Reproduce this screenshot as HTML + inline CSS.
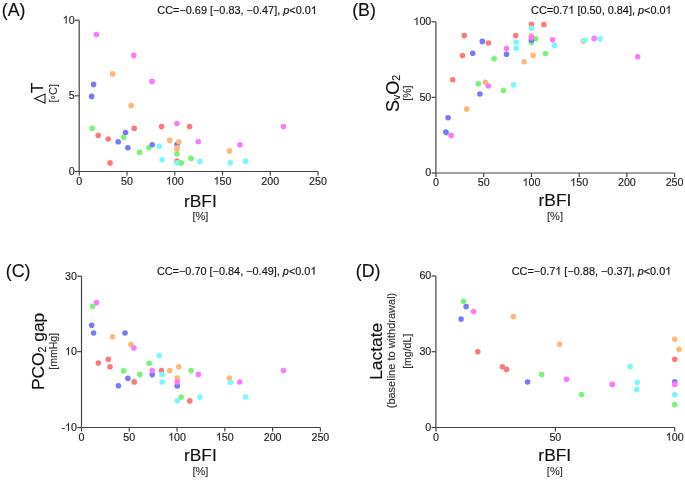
<!DOCTYPE html>
<html><head><meta charset="utf-8"><style>
html,body{margin:0;padding:0;background:#fff;}
svg{display:block;}
text{font-family:"Liberation Sans",sans-serif;fill:#111;stroke:#111;stroke-width:0.15px;}
.tk{stroke:#222;} .xu,.yu{stroke:#333;}
.pl{font-size:17.8px;}
.cc{font-size:10.9px;}
.tk{font-size:10.7px;fill:#222;}
.xl{font-size:17.4px;}
.xu{font-size:11px;fill:#333;}
.yl{font-size:17.4px;}
.yu{font-size:10.5px;fill:#333;}
.h1{fill-opacity:0;stroke-opacity:0;}
</style></head><body>
<svg width="685" height="481" viewBox="0 0 685 481">
<rect width="685" height="481" fill="#fff"/>
<path d="M79.2 20.2V171.5H318.0" fill="none" stroke="#444" stroke-width="1.2"/>
<path d="M74.9 171.5H79.2" stroke="#444" stroke-width="1.2"/>
<path d="M74.9 95.8H79.2" stroke="#444" stroke-width="1.2"/>
<path d="M74.9 20.2H79.2" stroke="#444" stroke-width="1.2"/>
<path d="M79.3 171.5V175.5" stroke="#444" stroke-width="1.2"/>
<path d="M127.03999999999999 171.5V175.5" stroke="#444" stroke-width="1.2"/>
<path d="M174.78 171.5V175.5" stroke="#444" stroke-width="1.2"/>
<path d="M222.51999999999998 171.5V175.5" stroke="#444" stroke-width="1.2"/>
<path d="M270.26 171.5V175.5" stroke="#444" stroke-width="1.2"/>
<path d="M318.0 171.5V175.5" stroke="#444" stroke-width="1.2"/>
<path d="M435.9 21.8V173H674.6" fill="none" stroke="#444" stroke-width="1.2"/>
<path d="M431.59999999999997 173H435.9" stroke="#444" stroke-width="1.2"/>
<path d="M431.59999999999997 97.4H435.9" stroke="#444" stroke-width="1.2"/>
<path d="M431.59999999999997 21.8H435.9" stroke="#444" stroke-width="1.2"/>
<path d="M436.0 173V177" stroke="#444" stroke-width="1.2"/>
<path d="M483.72 173V177" stroke="#444" stroke-width="1.2"/>
<path d="M531.44 173V177" stroke="#444" stroke-width="1.2"/>
<path d="M579.16 173V177" stroke="#444" stroke-width="1.2"/>
<path d="M626.88 173V177" stroke="#444" stroke-width="1.2"/>
<path d="M674.6 173V177" stroke="#444" stroke-width="1.2"/>
<path d="M81.5 276.2V427.5H320.4" fill="none" stroke="#444" stroke-width="1.2"/>
<path d="M77.2 427.5H81.5" stroke="#444" stroke-width="1.2"/>
<path d="M77.2 351.6H81.5" stroke="#444" stroke-width="1.2"/>
<path d="M77.2 276.2H81.5" stroke="#444" stroke-width="1.2"/>
<path d="M81.5 427.5V431.5" stroke="#444" stroke-width="1.2"/>
<path d="M129.28 427.5V431.5" stroke="#444" stroke-width="1.2"/>
<path d="M177.06 427.5V431.5" stroke="#444" stroke-width="1.2"/>
<path d="M224.84 427.5V431.5" stroke="#444" stroke-width="1.2"/>
<path d="M272.62 427.5V431.5" stroke="#444" stroke-width="1.2"/>
<path d="M320.4 427.5V431.5" stroke="#444" stroke-width="1.2"/>
<path d="M435.9 276.0V427.5H674.7" fill="none" stroke="#444" stroke-width="1.2"/>
<path d="M431.59999999999997 427.5H435.9" stroke="#444" stroke-width="1.2"/>
<path d="M431.59999999999997 351.7H435.9" stroke="#444" stroke-width="1.2"/>
<path d="M431.59999999999997 276.0H435.9" stroke="#444" stroke-width="1.2"/>
<path d="M436 427.5V431.5" stroke="#444" stroke-width="1.2"/>
<path d="M555.35 427.5V431.5" stroke="#444" stroke-width="1.2"/>
<path d="M674.7 427.5V431.5" stroke="#444" stroke-width="1.2"/>
<path d="M34.7 98.6L45.0 94.0V103.2Z" fill="none" stroke="#111" stroke-width="1.05" stroke-linejoin="miter"/>
<circle cx="96.4" cy="34.5" r="2.8" fill="#FB7AFB"/>
<circle cx="133.8" cy="55.4" r="2.8" fill="#FB7AFB"/>
<circle cx="112.6" cy="73.9" r="2.8" fill="#FFB87A"/>
<circle cx="152" cy="81.4" r="2.8" fill="#FB7AFB"/>
<circle cx="93.6" cy="84.4" r="2.8" fill="#7878FA"/>
<circle cx="91.6" cy="96.4" r="2.8" fill="#7878FA"/>
<circle cx="131.1" cy="105.6" r="2.8" fill="#FFB87A"/>
<circle cx="92.2" cy="128.2" r="2.8" fill="#78F278"/>
<circle cx="98.2" cy="135.5" r="2.8" fill="#FE7A7A"/>
<circle cx="108.2" cy="139" r="2.8" fill="#FE7A7A"/>
<circle cx="134.2" cy="128.2" r="2.8" fill="#FE7A7A"/>
<circle cx="123.7" cy="137.2" r="2.8" fill="#78F278"/>
<circle cx="125.5" cy="132.5" r="2.8" fill="#7878FA"/>
<circle cx="118.2" cy="141.7" r="2.8" fill="#7878FA"/>
<circle cx="127.9" cy="147.7" r="2.8" fill="#7878FA"/>
<circle cx="110" cy="162.9" r="2.8" fill="#FE7A7A"/>
<circle cx="139.6" cy="152.4" r="2.8" fill="#78F278"/>
<circle cx="148.9" cy="147.7" r="2.8" fill="#78F278"/>
<circle cx="161.5" cy="126.6" r="2.8" fill="#FE7A7A"/>
<circle cx="177" cy="123.5" r="2.8" fill="#FB7AFB"/>
<circle cx="189.6" cy="126.6" r="2.8" fill="#FE7A7A"/>
<circle cx="169.75" cy="140.4" r="2.8" fill="#FFB87A"/>
<circle cx="198.25" cy="141.75" r="2.8" fill="#FB7AFB"/>
<circle cx="152.25" cy="144.75" r="2.8" fill="#7878FA"/>
<circle cx="159.25" cy="146.25" r="2.8" fill="#78F8F8"/>
<circle cx="177" cy="144.5" r="2.8" fill="#7878FA"/>
<circle cx="178.9" cy="141.75" r="2.8" fill="#FFB87A"/>
<circle cx="177" cy="147.75" r="2.8" fill="#FFB87A"/>
<circle cx="177" cy="149.2" r="2.8" fill="#FFB87A"/>
<circle cx="177" cy="154" r="2.8" fill="#78F278"/>
<circle cx="162.1" cy="159.75" r="2.8" fill="#78F8F8"/>
<circle cx="177" cy="161" r="2.8" fill="#FE7A7A"/>
<circle cx="177" cy="162.9" r="2.8" fill="#78F8F8"/>
<circle cx="181.25" cy="162.9" r="2.8" fill="#78F278"/>
<circle cx="191" cy="158.4" r="2.8" fill="#78F278"/>
<circle cx="200" cy="161.5" r="2.8" fill="#78F8F8"/>
<circle cx="229.4" cy="150.9" r="2.8" fill="#FFB87A"/>
<circle cx="230.2" cy="162.8" r="2.8" fill="#78F8F8"/>
<circle cx="245.5" cy="161.3" r="2.8" fill="#78F8F8"/>
<circle cx="239.9" cy="144.7" r="2.8" fill="#FB7AFB"/>
<circle cx="283.4" cy="126.6" r="2.8" fill="#FB7AFB"/>
<circle cx="464.3" cy="35.6" r="2.8" fill="#FE7A7A"/>
<circle cx="482.3" cy="41.4" r="2.8" fill="#7878FA"/>
<circle cx="488.4" cy="43" r="2.8" fill="#FE7A7A"/>
<circle cx="462.5" cy="55.5" r="2.8" fill="#FE7A7A"/>
<circle cx="472.7" cy="53.3" r="2.8" fill="#7878FA"/>
<circle cx="494.1" cy="58.7" r="2.8" fill="#78F278"/>
<circle cx="506.5" cy="48.5" r="2.8" fill="#FB7AFB"/>
<circle cx="506.5" cy="54.2" r="2.8" fill="#7878FA"/>
<circle cx="515.7" cy="35.6" r="2.8" fill="#FE7A7A"/>
<circle cx="516.2" cy="42.2" r="2.8" fill="#78F8F8"/>
<circle cx="516.2" cy="48.2" r="2.8" fill="#78F8F8"/>
<circle cx="452.7" cy="79.7" r="2.8" fill="#FE7A7A"/>
<circle cx="478.2" cy="83.8" r="2.8" fill="#78F278"/>
<circle cx="485.4" cy="82.3" r="2.8" fill="#FFB87A"/>
<circle cx="488.3" cy="86" r="2.8" fill="#FB7AFB"/>
<circle cx="503.4" cy="90.5" r="2.8" fill="#78F278"/>
<circle cx="479.9" cy="94" r="2.8" fill="#7878FA"/>
<circle cx="513.5" cy="84.9" r="2.8" fill="#78F8F8"/>
<circle cx="466.8" cy="109.1" r="2.8" fill="#FFB87A"/>
<circle cx="448.1" cy="117.7" r="2.8" fill="#7878FA"/>
<circle cx="446.6" cy="133" r="2.8" fill="#78F278"/>
<circle cx="445.8" cy="132.1" r="2.8" fill="#7878FA"/>
<circle cx="451.1" cy="135.4" r="2.8" fill="#FB7AFB"/>
<circle cx="531.4" cy="24.4" r="2.8" fill="#FE7A7A"/>
<circle cx="531.4" cy="28.2" r="2.8" fill="#78F8F8"/>
<circle cx="543.9" cy="24.6" r="2.8" fill="#FE7A7A"/>
<circle cx="531.4" cy="35.8" r="2.8" fill="#FFB87A"/>
<circle cx="535.7" cy="38.7" r="2.8" fill="#78F278"/>
<circle cx="531.4" cy="42.6" r="2.8" fill="#78F278"/>
<circle cx="531.4" cy="40.3" r="2.8" fill="#7878FA"/>
<circle cx="531.4" cy="37.4" r="2.8" fill="#FB7AFB"/>
<circle cx="552.5" cy="39.8" r="2.8" fill="#FB7AFB"/>
<circle cx="554.3" cy="45.4" r="2.8" fill="#78F8F8"/>
<circle cx="533.1" cy="55.4" r="2.8" fill="#FFB87A"/>
<circle cx="545.5" cy="53.5" r="2.8" fill="#78F278"/>
<circle cx="524.2" cy="61.8" r="2.8" fill="#FFB87A"/>
<circle cx="583.3" cy="41.1" r="2.8" fill="#FFB87A"/>
<circle cx="584.4" cy="40.3" r="2.8" fill="#78F8F8"/>
<circle cx="594.1" cy="38.4" r="2.8" fill="#FB7AFB"/>
<circle cx="600.1" cy="38.7" r="2.8" fill="#78F8F8"/>
<circle cx="637.7" cy="56.8" r="2.8" fill="#FB7AFB"/>
<circle cx="92.6" cy="306.3" r="2.8" fill="#78F278"/>
<circle cx="96.6" cy="302.6" r="2.8" fill="#FB7AFB"/>
<circle cx="91.7" cy="325.3" r="2.8" fill="#7878FA"/>
<circle cx="93.6" cy="333" r="2.8" fill="#7878FA"/>
<circle cx="112.6" cy="336.7" r="2.8" fill="#FFB87A"/>
<circle cx="125" cy="333" r="2.8" fill="#7878FA"/>
<circle cx="130.9" cy="344.2" r="2.8" fill="#FFB87A"/>
<circle cx="133.9" cy="348" r="2.8" fill="#FB7AFB"/>
<circle cx="159.2" cy="355.5" r="2.8" fill="#78F8F8"/>
<circle cx="98.3" cy="363.1" r="2.8" fill="#FE7A7A"/>
<circle cx="108.3" cy="359.2" r="2.8" fill="#FE7A7A"/>
<circle cx="110" cy="366.7" r="2.8" fill="#FE7A7A"/>
<circle cx="149.2" cy="363.2" r="2.8" fill="#78F278"/>
<circle cx="123.7" cy="370.7" r="2.8" fill="#78F278"/>
<circle cx="139.8" cy="374.4" r="2.8" fill="#78F278"/>
<circle cx="127.9" cy="378.2" r="2.8" fill="#7878FA"/>
<circle cx="134.2" cy="381.9" r="2.8" fill="#FE7A7A"/>
<circle cx="118.4" cy="385.7" r="2.8" fill="#7878FA"/>
<circle cx="152.2" cy="374.6" r="2.8" fill="#7878FA"/>
<circle cx="152.2" cy="370.6" r="2.8" fill="#FB7AFB"/>
<circle cx="161.4" cy="370.6" r="2.8" fill="#FE7A7A"/>
<circle cx="162.1" cy="374.5" r="2.8" fill="#78F8F8"/>
<circle cx="162.1" cy="382" r="2.8" fill="#78F8F8"/>
<circle cx="169.8" cy="370.6" r="2.8" fill="#FFB87A"/>
<circle cx="178.8" cy="366.8" r="2.8" fill="#FFB87A"/>
<circle cx="177.2" cy="378" r="2.8" fill="#FFB87A"/>
<circle cx="177.2" cy="386" r="2.8" fill="#7878FA"/>
<circle cx="177.2" cy="382" r="2.8" fill="#FB7AFB"/>
<circle cx="191.1" cy="370.6" r="2.8" fill="#78F278"/>
<circle cx="198.3" cy="374.4" r="2.8" fill="#FB7AFB"/>
<circle cx="177.2" cy="400.7" r="2.8" fill="#78F8F8"/>
<circle cx="181.2" cy="397.1" r="2.8" fill="#78F278"/>
<circle cx="189.8" cy="400.9" r="2.8" fill="#FE7A7A"/>
<circle cx="199.8" cy="397.1" r="2.8" fill="#78F8F8"/>
<circle cx="229.3" cy="378.1" r="2.8" fill="#FFB87A"/>
<circle cx="230.4" cy="382.2" r="2.8" fill="#78F8F8"/>
<circle cx="239.7" cy="382" r="2.8" fill="#FB7AFB"/>
<circle cx="283.4" cy="370.6" r="2.8" fill="#FB7AFB"/>
<circle cx="245.6" cy="397" r="2.8" fill="#78F8F8"/>
<circle cx="463.5" cy="301.3" r="2.8" fill="#78F278"/>
<circle cx="466.1" cy="306.6" r="2.8" fill="#7878FA"/>
<circle cx="473.6" cy="311.5" r="2.8" fill="#FB7AFB"/>
<circle cx="461.1" cy="319.1" r="2.8" fill="#7878FA"/>
<circle cx="513.4" cy="316.6" r="2.8" fill="#FFB87A"/>
<circle cx="477.8" cy="351.8" r="2.8" fill="#FE7A7A"/>
<circle cx="502.4" cy="366.7" r="2.8" fill="#FE7A7A"/>
<circle cx="506.6" cy="369.4" r="2.8" fill="#FE7A7A"/>
<circle cx="527.6" cy="382" r="2.8" fill="#7878FA"/>
<circle cx="541.7" cy="374.5" r="2.8" fill="#78F278"/>
<circle cx="559.6" cy="344.2" r="2.8" fill="#FFB87A"/>
<circle cx="566.5" cy="379.3" r="2.8" fill="#FB7AFB"/>
<circle cx="581.5" cy="394.5" r="2.8" fill="#78F278"/>
<circle cx="612.3" cy="384.4" r="2.8" fill="#FB7AFB"/>
<circle cx="630.1" cy="366.6" r="2.8" fill="#78F8F8"/>
<circle cx="637.2" cy="382.2" r="2.8" fill="#78F8F8"/>
<circle cx="636.7" cy="389.5" r="2.8" fill="#78F8F8"/>
<circle cx="674.7" cy="339.2" r="2.8" fill="#FFB87A"/>
<circle cx="679.1" cy="349.2" r="2.8" fill="#FFB87A"/>
<circle cx="674.7" cy="359.3" r="2.8" fill="#FE7A7A"/>
<circle cx="674.7" cy="381.7" r="2.8" fill="#7878FA"/>
<circle cx="674.7" cy="384.4" r="2.8" fill="#FB7AFB"/>
<circle cx="674.7" cy="394.7" r="2.8" fill="#78F8F8"/>
<circle cx="674.7" cy="404.6" r="2.8" fill="#78F278"/>
<g style="filter:grayscale(1)">
<text x="1.8" y="16.1" class="pl">(A)</text>
<text x="352.2" y="16.1" class="pl">(B)</text>
<text x="5.8" y="276.6" class="pl">(C)</text>
<text x="355.8" y="276.6" class="pl">(D)</text>
<text id="one0" x="157.3" y="13.9" class="cc">CC=−0.69 [−0.83, −0.47], <tspan font-style="italic">p</tspan>&lt;0.0<tspan class="h1">1</tspan></text>
<text id="one1" x="531.1" y="13.7" class="cc">CC=0.7<tspan class="h1">1</tspan> [0.50, 0.84], <tspan font-style="italic">p</tspan>&lt;0.0<tspan class="h1">1</tspan></text>
<text id="one2" x="156.9" y="274.7" class="cc">CC=−0.70 [−0.84, −0.49], <tspan font-style="italic">p</tspan>&lt;0.0<tspan class="h1">1</tspan></text>
<text id="one3" x="511.7" y="274.7" class="cc">CC=−0.7<tspan class="h1">1</tspan> [−0.88, −0.37], <tspan font-style="italic">p</tspan>&lt;0.0<tspan class="h1">1</tspan></text>
<text x="74.60000000000001" y="174.8" class="tk" text-anchor="end">0</text>
<text x="74.60000000000001" y="99.1" class="tk" text-anchor="end">5</text>
<text id="one4" x="74.60000000000001" y="23.5" class="tk" text-anchor="end"><tspan class="h1">1</tspan>0</text>
<text x="79.3" y="184.5" class="tk" text-anchor="middle">0</text>
<text x="127.03999999999999" y="184.5" class="tk" text-anchor="middle">50</text>
<text id="one5" x="174.78" y="184.5" class="tk" text-anchor="middle"><tspan class="h1">1</tspan>00</text>
<text id="one6" x="222.51999999999998" y="184.5" class="tk" text-anchor="middle"><tspan class="h1">1</tspan>50</text>
<text x="270.26" y="184.5" class="tk" text-anchor="middle">200</text>
<text x="318.0" y="184.5" class="tk" text-anchor="middle">250</text>
<text x="431.29999999999995" y="176.3" class="tk" text-anchor="end">0</text>
<text x="431.29999999999995" y="100.7" class="tk" text-anchor="end">50</text>
<text id="one7" x="431.29999999999995" y="25.1" class="tk" text-anchor="end"><tspan class="h1">1</tspan>00</text>
<text x="436.0" y="186" class="tk" text-anchor="middle">0</text>
<text x="483.72" y="186" class="tk" text-anchor="middle">50</text>
<text id="one8" x="531.44" y="186" class="tk" text-anchor="middle"><tspan class="h1">1</tspan>00</text>
<text id="one9" x="579.16" y="186" class="tk" text-anchor="middle"><tspan class="h1">1</tspan>50</text>
<text x="626.88" y="186" class="tk" text-anchor="middle">200</text>
<text x="674.6" y="186" class="tk" text-anchor="middle">250</text>
<text id="one10" x="76.9" y="430.8" class="tk" text-anchor="end">-<tspan class="h1">1</tspan>0</text>
<text id="one11" x="76.9" y="354.90000000000003" class="tk" text-anchor="end"><tspan class="h1">1</tspan>0</text>
<text x="76.9" y="279.5" class="tk" text-anchor="end">30</text>
<text x="81.5" y="440.5" class="tk" text-anchor="middle">0</text>
<text x="129.28" y="440.5" class="tk" text-anchor="middle">50</text>
<text id="one12" x="177.06" y="440.5" class="tk" text-anchor="middle"><tspan class="h1">1</tspan>00</text>
<text id="one13" x="224.84" y="440.5" class="tk" text-anchor="middle"><tspan class="h1">1</tspan>50</text>
<text x="272.62" y="440.5" class="tk" text-anchor="middle">200</text>
<text x="320.4" y="440.5" class="tk" text-anchor="middle">250</text>
<text x="431.29999999999995" y="430.8" class="tk" text-anchor="end">0</text>
<text x="431.29999999999995" y="355.0" class="tk" text-anchor="end">30</text>
<text x="431.29999999999995" y="279.3" class="tk" text-anchor="end">60</text>
<text x="436" y="440.5" class="tk" text-anchor="middle">0</text>
<text x="555.35" y="440.5" class="tk" text-anchor="middle">50</text>
<text id="one14" x="674.7" y="440.5" class="tk" text-anchor="middle"><tspan class="h1">1</tspan>00</text>
<text x="200.4" y="206.7" class="xl" text-anchor="middle">rBFI</text>
<text x="200.4" y="219.8" class="xu" text-anchor="middle">[%]</text>
<text x="555" y="206.4" class="xl" text-anchor="middle">rBFI</text>
<text x="555" y="219.5" class="xu" text-anchor="middle">[%]</text>
<text x="200.4" y="460.9" class="xl" text-anchor="middle">rBFI</text>
<text x="200.4" y="474.6" class="xu" text-anchor="middle">[%]</text>
<text x="554.8" y="460.9" class="xl" text-anchor="middle">rBFI</text>
<text x="554.8" y="474.6" class="xu" text-anchor="middle">[%]</text>
<text transform="translate(43.3 88) rotate(-90)" class="yl" text-anchor="middle">T</text>
<text transform="translate(56.9 93.3) rotate(-90)" class="yu" style="font-size:11px" text-anchor="middle">[<tspan dy="2.4">°</tspan><tspan dy="-2.4">C]</tspan></text>
<text transform="translate(398.6 93.35) rotate(-90)" class="yl" style="font-size:18px" text-anchor="middle">S<tspan style="font-size:10.5px" dy="1.5">v</tspan><tspan dy="-1.5">O</tspan><tspan style="font-size:10.5px" dy="1.5">2</tspan></text>
<text transform="translate(411 93.2) rotate(-90)" class="yu" text-anchor="middle">[%]</text>
<text transform="translate(44.1 351.4) rotate(-90)" class="yl" text-anchor="middle">PCO<tspan font-size="10.5" dy="1.5">2</tspan><tspan dy="-1.5"> gap</tspan></text>
<text transform="translate(57.1 351.4) rotate(-90)" class="yu" text-anchor="middle">[mmHg]</text>
<text transform="translate(382.2 351.35) rotate(-90)" class="yl" text-anchor="middle">Lactate</text>
<text transform="translate(395.2 350.5) rotate(-90)" class="yu" font-size="11" style="font-size:11px" text-anchor="middle">(baseline to withdrawal)</text>
<text transform="translate(411 351.35) rotate(-90)" class="yu" text-anchor="middle">[mg/dL]</text>
<path transform=" translate(310.816 13.900) scale(0.005322 -0.005322)" d="M763 0L583 0L583 1147Q518 1085 412.5 1023Q307 961 223 930L223 1104Q374 1175 486.5 1276Q599 1377 646 1472L763 1472Z" fill="rgb(17, 17, 17)" stroke="rgb(17, 17, 17)" stroke-width="0.15" vector-effect="non-scaling-stroke"/>
<path transform=" translate(568.334 13.700) scale(0.005322 -0.005322)" d="M763 0L583 0L583 1147Q518 1085 412.5 1023Q307 961 223 930L223 1104Q374 1175 486.5 1276Q599 1377 646 1472L763 1472Z" fill="rgb(17, 17, 17)" stroke="rgb(17, 17, 17)" stroke-width="0.15" vector-effect="non-scaling-stroke"/>
<path transform=" translate(665.537 13.700) scale(0.005322 -0.005322)" d="M763 0L583 0L583 1147Q518 1085 412.5 1023Q307 961 223 930L223 1104Q374 1175 486.5 1276Q599 1377 646 1472L763 1472Z" fill="rgb(17, 17, 17)" stroke="rgb(17, 17, 17)" stroke-width="0.15" vector-effect="non-scaling-stroke"/>
<path transform=" translate(310.416 274.700) scale(0.005322 -0.005322)" d="M763 0L583 0L583 1147Q518 1085 412.5 1023Q307 961 223 930L223 1104Q374 1175 486.5 1276Q599 1377 646 1472L763 1472Z" fill="rgb(17, 17, 17)" stroke="rgb(17, 17, 17)" stroke-width="0.15" vector-effect="non-scaling-stroke"/>
<path transform=" translate(555.294 274.700) scale(0.005322 -0.005322)" d="M763 0L583 0L583 1147Q518 1085 412.5 1023Q307 961 223 930L223 1104Q374 1175 486.5 1276Q599 1377 646 1472L763 1472Z" fill="rgb(17, 17, 17)" stroke="rgb(17, 17, 17)" stroke-width="0.15" vector-effect="non-scaling-stroke"/>
<path transform=" translate(665.216 274.700) scale(0.005322 -0.005322)" d="M763 0L583 0L583 1147Q518 1085 412.5 1023Q307 961 223 930L223 1104Q374 1175 486.5 1276Q599 1377 646 1472L763 1472Z" fill="rgb(17, 17, 17)" stroke="rgb(17, 17, 17)" stroke-width="0.15" vector-effect="non-scaling-stroke"/>
<path transform=" translate(62.694 23.500) scale(0.005225 -0.005225)" d="M763 0L583 0L583 1147Q518 1085 412.5 1023Q307 961 223 930L223 1104Q374 1175 486.5 1276Q599 1377 646 1472L763 1472Z" fill="rgb(34, 34, 34)" stroke="rgb(34, 34, 34)" stroke-width="0.15" vector-effect="non-scaling-stroke"/>
<path transform=" translate(165.858 184.500) scale(0.005225 -0.005225)" d="M763 0L583 0L583 1147Q518 1085 412.5 1023Q307 961 223 930L223 1104Q374 1175 486.5 1276Q599 1377 646 1472L763 1472Z" fill="rgb(34, 34, 34)" stroke="rgb(34, 34, 34)" stroke-width="0.15" vector-effect="non-scaling-stroke"/>
<path transform=" translate(213.598 184.500) scale(0.005225 -0.005225)" d="M763 0L583 0L583 1147Q518 1085 412.5 1023Q307 961 223 930L223 1104Q374 1175 486.5 1276Q599 1377 646 1472L763 1472Z" fill="rgb(34, 34, 34)" stroke="rgb(34, 34, 34)" stroke-width="0.15" vector-effect="non-scaling-stroke"/>
<path transform=" translate(413.456 25.100) scale(0.005225 -0.005225)" d="M763 0L583 0L583 1147Q518 1085 412.5 1023Q307 961 223 930L223 1104Q374 1175 486.5 1276Q599 1377 646 1472L763 1472Z" fill="rgb(34, 34, 34)" stroke="rgb(34, 34, 34)" stroke-width="0.15" vector-effect="non-scaling-stroke"/>
<path transform=" translate(522.518 186.000) scale(0.005225 -0.005225)" d="M763 0L583 0L583 1147Q518 1085 412.5 1023Q307 961 223 930L223 1104Q374 1175 486.5 1276Q599 1377 646 1472L763 1472Z" fill="rgb(34, 34, 34)" stroke="rgb(34, 34, 34)" stroke-width="0.15" vector-effect="non-scaling-stroke"/>
<path transform=" translate(570.238 186.000) scale(0.005225 -0.005225)" d="M763 0L583 0L583 1147Q518 1085 412.5 1023Q307 961 223 930L223 1104Q374 1175 486.5 1276Q599 1377 646 1472L763 1472Z" fill="rgb(34, 34, 34)" stroke="rgb(34, 34, 34)" stroke-width="0.15" vector-effect="non-scaling-stroke"/>
<path transform=" translate(64.994 430.800) scale(0.005225 -0.005225)" d="M763 0L583 0L583 1147Q518 1085 412.5 1023Q307 961 223 930L223 1104Q374 1175 486.5 1276Q599 1377 646 1472L763 1472Z" fill="rgb(34, 34, 34)" stroke="rgb(34, 34, 34)" stroke-width="0.15" vector-effect="non-scaling-stroke"/>
<path transform=" translate(64.994 354.900) scale(0.005225 -0.005225)" d="M763 0L583 0L583 1147Q518 1085 412.5 1023Q307 961 223 930L223 1104Q374 1175 486.5 1276Q599 1377 646 1472L763 1472Z" fill="rgb(34, 34, 34)" stroke="rgb(34, 34, 34)" stroke-width="0.15" vector-effect="non-scaling-stroke"/>
<path transform=" translate(168.138 440.500) scale(0.005225 -0.005225)" d="M763 0L583 0L583 1147Q518 1085 412.5 1023Q307 961 223 930L223 1104Q374 1175 486.5 1276Q599 1377 646 1472L763 1472Z" fill="rgb(34, 34, 34)" stroke="rgb(34, 34, 34)" stroke-width="0.15" vector-effect="non-scaling-stroke"/>
<path transform=" translate(215.918 440.500) scale(0.005225 -0.005225)" d="M763 0L583 0L583 1147Q518 1085 412.5 1023Q307 961 223 930L223 1104Q374 1175 486.5 1276Q599 1377 646 1472L763 1472Z" fill="rgb(34, 34, 34)" stroke="rgb(34, 34, 34)" stroke-width="0.15" vector-effect="non-scaling-stroke"/>
<path transform=" translate(665.778 440.500) scale(0.005225 -0.005225)" d="M763 0L583 0L583 1147Q518 1085 412.5 1023Q307 961 223 930L223 1104Q374 1175 486.5 1276Q599 1377 646 1472L763 1472Z" fill="rgb(34, 34, 34)" stroke="rgb(34, 34, 34)" stroke-width="0.15" vector-effect="non-scaling-stroke"/>
</g>
</svg>
</body></html>
